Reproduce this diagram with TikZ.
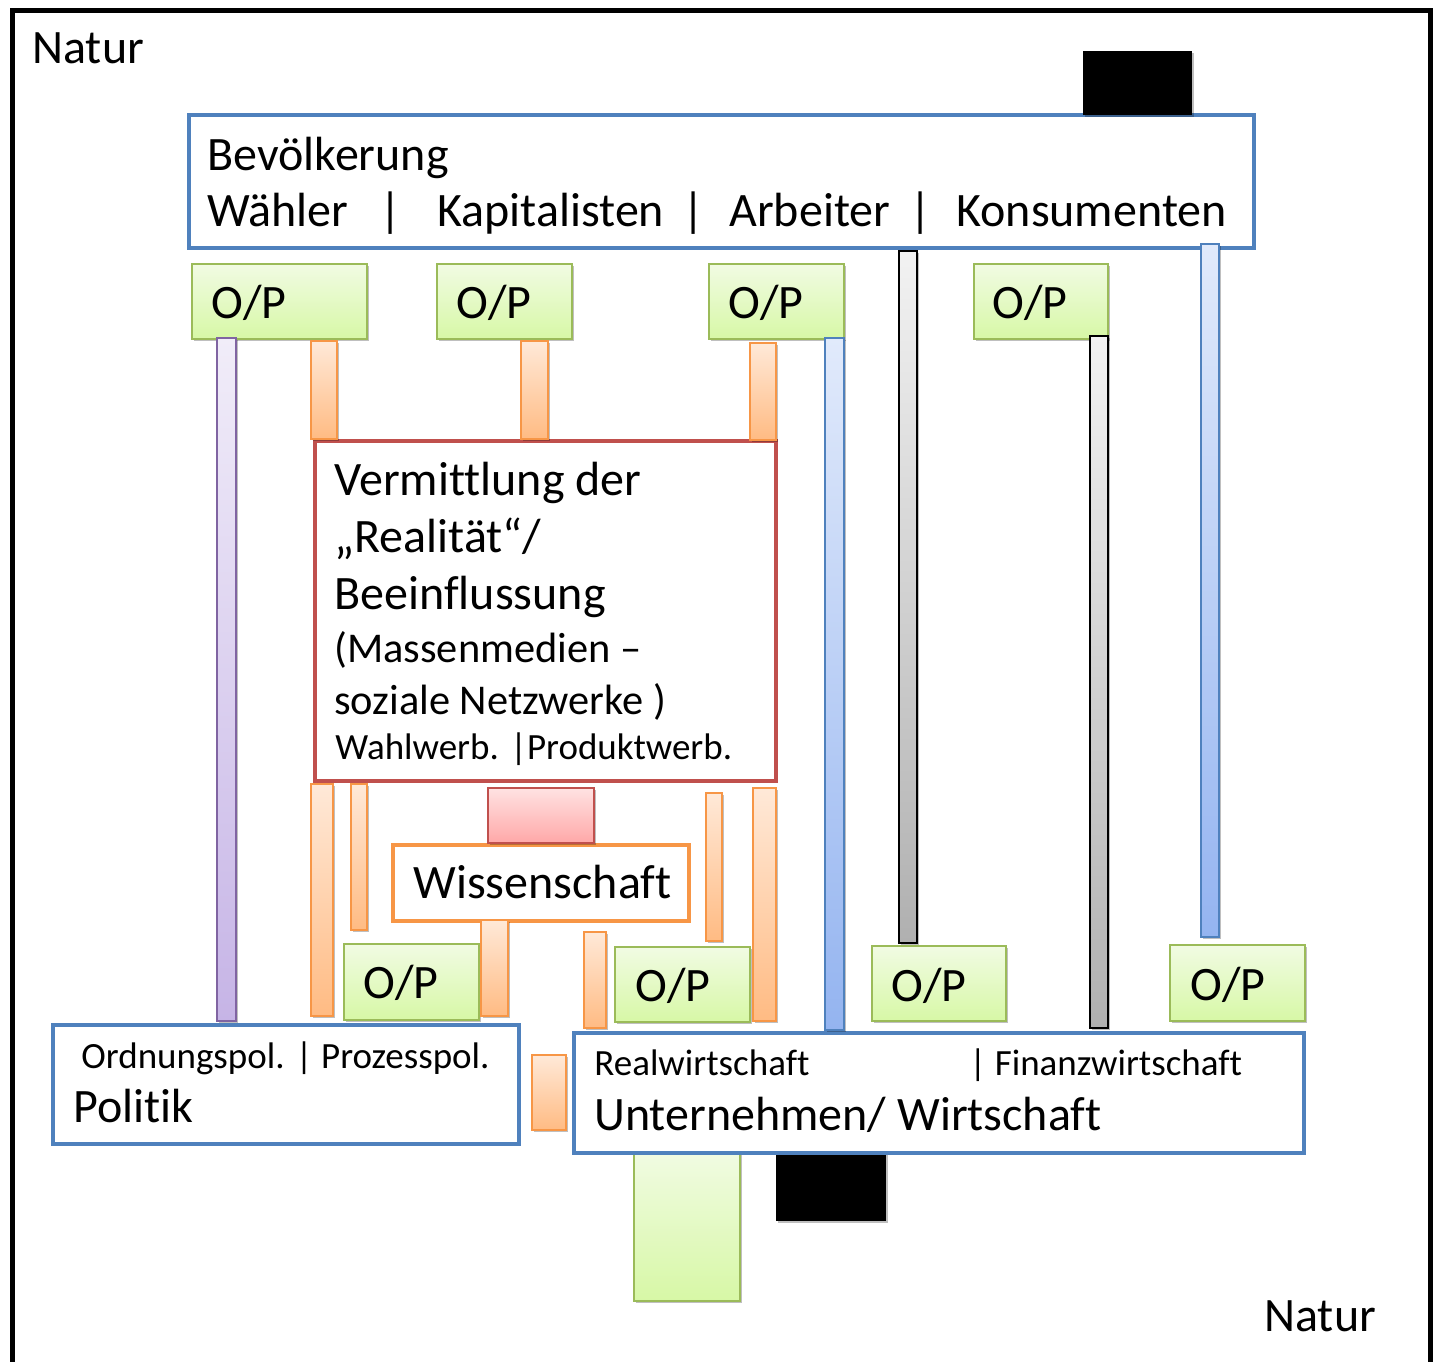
\documentclass[tikz,border=0pt]{standalone}
\usepackage{fontspec}
\setmainfont{Carlito}[Ligatures=NoCommon]
\usepackage{xcolor}
\definecolor{cBlue}{HTML}{4F81BD}
\definecolor{cRed}{HTML}{C0504D}
\definecolor{cOrange}{HTML}{F79646}
\definecolor{cGreen}{HTML}{9BBB59}
\definecolor{cPurple}{HTML}{8064A2}
\definecolor{cGreenTop}{HTML}{F1FBE3}
\definecolor{cGreenBot}{HTML}{D7F8A6}
\definecolor{cOrangeTop}{HTML}{FFE9D8}
\definecolor{cOrangeBot}{HTML}{FFBB83}
\definecolor{cPurpleTop}{HTML}{F1EDF9}
\definecolor{cPurpleBot}{HTML}{C6B4E6}
\definecolor{cBlueTop}{HTML}{E1EAFB}
\definecolor{cBlueBot}{HTML}{94B4F0}
\definecolor{cGrayTop}{HTML}{F2F2F2}
\definecolor{cGrayBot}{HTML}{B0B0B0}
\definecolor{cPinkTop}{HTML}{FFE2E2}
\definecolor{cPinkBot}{HTML}{FFA8A8}
\usetikzlibrary{shadows}
\newcommand\txtL{\fontsize{24}{28}\selectfont}
\newcommand\txtM{\fontsize{21.2}{25}\selectfont}
\newcommand\txtS{\fontsize{18.5}{22}\selectfont}
\tikzset{
  soft-shadow/.style={drop shadow={shadow xshift=0.8pt,shadow yshift=-1.2pt,
    opacity=0.25,fill=black}},
  frame-line/.style={draw=black,line width=2.5pt},
  box-main/.style={draw=cBlue,line width=2pt,fill=white,soft-shadow},
  box-media/.style={draw=cRed,line width=2pt,fill=white,soft-shadow},
  box-science/.style={draw=cOrange,line width=2pt,fill=white,soft-shadow},
  box-op/.style={draw=cGreen,line width=1pt,top color=cGreenTop,
    bottom color=cGreenBot,soft-shadow},
  box-black/.style={fill=black,soft-shadow},
  box-pink/.style={draw=cRed,line width=1pt,top color=cPinkTop,
    bottom color=cPinkBot,soft-shadow},
  bar-orange/.style={draw=cOrange,line width=1pt,top color=cOrangeTop,
    bottom color=cOrangeBot,soft-shadow},
  bar-purple/.style={draw=cPurple,line width=1pt,top color=cPurpleTop,
    bottom color=cPurpleBot,soft-shadow},
  bar-blue/.style={draw=cBlue,line width=1pt,top color=cBlueTop,
    bottom color=cBlueBot,soft-shadow},
  bar-gray/.style={draw=black,line width=0.8pt,top color=cGrayTop,
    bottom color=cGrayBot,soft-shadow},
  txt/.style={inner sep=0pt,anchor=base west},
  sep/.style={inner sep=0pt,anchor=base},
}
\begin{document}
\begin{tikzpicture}[x=0.5pt,y=-0.5pt]
  \clip (0,0) rectangle (1438,1361);
  \fill[white] (0,0) rectangle (1438,1361);
  % Rahmen Natur
  \draw[frame-line] (12,10) rectangle (1430,1420);

  % obere Ebene
  \draw[box-main]  (189,115) rectangle (1254,248);
  \path[box-black] (1083,51) rectangle (1192,115);
  \draw[box-op] (192,264) rectangle (367,339);
  \draw[box-op] (437,264) rectangle (572,339);
  \draw[box-op] (709,264) rectangle (844,339);
  \draw[box-op] (974,264) rectangle (1108,339);

  % Medien und Wissenschaft
  \draw[box-media]   (315,441) rectangle (776,781);
  \draw[box-science] (393,845) rectangle (689,921);

  % untere Ebene
  \draw[box-op]    (634,1150) rectangle (740,1301);
  \path[box-black] (776,1150) rectangle (886,1221);
  \draw[box-main]  (53,1025) rectangle (519,1144);
  \draw[box-main]  (574,1033) rectangle (1304,1153);
  \draw[box-op] (344,944) rectangle (479,1020);
  \draw[box-op] (615,947) rectangle (750,1022);
  \draw[box-op] (872,946) rectangle (1006,1021);
  \draw[box-op] (1170,945) rectangle (1305,1021);
  \draw[box-pink] (488,788) rectangle (594,843);

  % Verbindungsbalken
  \draw[bar-purple] (217,338) rectangle (236,1021);
  \draw[bar-orange] (311,341) rectangle (337,439);
  \draw[bar-orange] (521,341) rectangle (548,439);
  \draw[bar-orange] (750,343) rectangle (776,440);
  \draw[bar-blue]   (825,338) rectangle (844,1030);
  \draw[bar-gray]   (899,251) rectangle (917,943);
  \draw[bar-gray]   (1090,336) rectangle (1108,1028);
  \draw[bar-blue]   (1201,244) rectangle (1219,937);
  \draw[bar-orange] (311,784) rectangle (333,1016);
  \draw[bar-orange] (351,784) rectangle (367,930);
  \draw[bar-orange] (481,920) rectangle (508,1016);
  \draw[bar-orange] (584,932) rectangle (606,1028);
  \draw[bar-orange] (706,793) rectangle (722,941);
  \draw[bar-orange] (753,788) rectangle (776,1021);
  \draw[bar-orange] (532,1055) rectangle (566,1130);

  % Texte
  \node[txt] (natur-top) at (32,63)    {\txtL Natur};
  \node[txt] (natur-bot) at (1264,1331) {\txtL Natur};
  \node[txt] (bev)  at (207,170) {\txtL Bevölkerung};
  \node[txt] (waehler) at (207,226) {\txtL Wähler};
  \node[sep] (sep1) at (391,226) {\txtL |};
  \node[txt] (kap)  at (437,226) {\txtL Kapitalisten};
  \node[sep] (sep2) at (694,226) {\txtL |};
  \node[txt] (arb)  at (729,226) {\txtL Arbeiter};
  \node[sep] (sep3) at (921,226) {\txtL |};
  \node[txt] (kons) at (956,226) {\txtL Konsumenten};
  \node[txt] (op-t1) at (211,318) {\txtL O/P};
  \node[txt] (op-t2) at (456,318) {\txtL O/P};
  \node[txt] (op-t3) at (728,318) {\txtL O/P};
  \node[txt] (op-t4) at (992,318) {\txtL O/P};
  \node[txt] (med1) at (334,495) {\txtL Vermittlung der};
  \node[txt] (med2) at (334,552) {\txtL „Realität“/};
  \node[txt] (med3) at (334,609) {\txtL Beeinflussung};
  \node[txt] (med4) at (334,662) {\txtM (Massenmedien –};
  \node[txt] (med5) at (334,714) {\txtM soziale Netzwerke )};
  \node[txt] (med6) at (335,759) {\txtS Wahlwerb. |Produktwerb.};
  \node[txt] (wiss) at (413,898) {\txtL Wissenschaft};
  \node[txt] (op-b1) at (363,998) {\txtL O/P};
  \node[txt] (op-b2) at (635,1001) {\txtL O/P};
  \node[txt] (op-b3) at (891,1001) {\txtL O/P};
  \node[txt] (op-b4) at (1190,1000) {\txtL O/P};
  \node[txt] (pol-sub) at (81,1068)  {\txtS Ordnungspol. | Prozesspol.};
  \node[txt] (pol)     at (73,1122)  {\txtL Politik};
  \node[txt] (wirt-sub1) at (594,1075) {\txtS Realwirtschaft};
  \node[txt] (wirt-sub2) at (969,1075) {\txtS | Finanzwirtschaft};
  \node[txt] (wirt)      at (594,1130) {\txtL Unternehmen/ Wirtschaft};
\end{tikzpicture}
\end{document}
